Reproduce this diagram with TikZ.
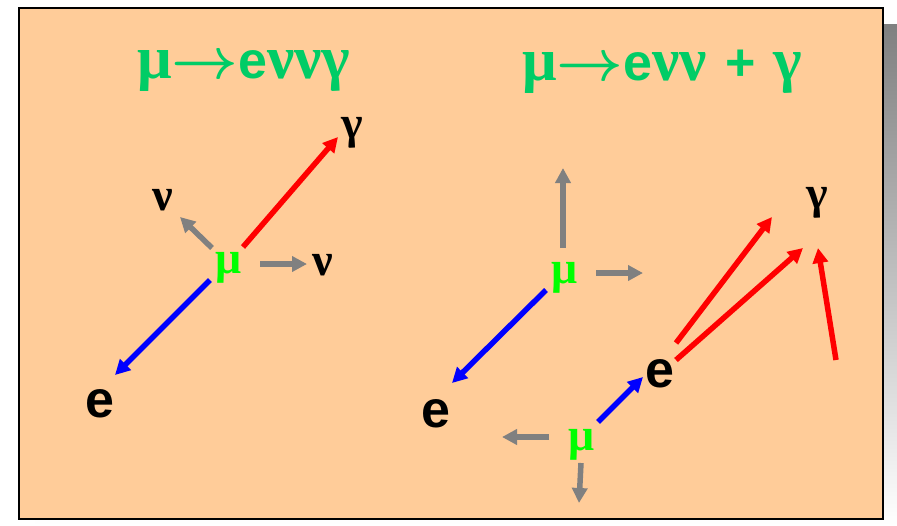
\documentclass[tikz,border=0pt]{standalone}
\usepackage{fix-cm}
\usepackage{amsmath}
\usepackage{fontspec}
\setmainfont{Liberation Sans}
\newfontfamily\greek{Liberation Serif}
\usetikzlibrary{arrows.meta}
\definecolor{paper}{HTML}{FFCC99}
\definecolor{shade}{HTML}{808080}
\definecolor{titleGreen}{HTML}{00CC66}
\definecolor{muGreen}{HTML}{00FF00}
\definecolor{phRed}{HTML}{FF0000}
\definecolor{elBlue}{HTML}{0000FF}
\definecolor{nuGray}{HTML}{808080}
\newcommand{\decarrow}{{\fontsize{58}{58}\selectfont$\boldsymbol{\rightarrow}$}}
\newcommand{\tgk}[1]{{\fontsize{61}{61}\selectfont\greek #1}}

\begin{document}
\begin{tikzpicture}[x=1pt,y=-1pt,>={Triangle[length=15pt,width=15pt]},
  trk/.style={->,line width=5.5pt},
  ttl/.style={anchor=base west,inner sep=0pt,text=titleGreen,font=\fontsize{52}{52}\selectfont\bfseries},
  gk/.style={anchor=base,inner sep=0pt,font=\fontsize{46}{46}\selectfont\greek\bfseries},
  el/.style={anchor=base,inner sep=0pt,font=\fontsize{52}{52}\selectfont\bfseries},
  mu/.style={gk,text=muGreen}]
\useasboundingbox (0,0) rectangle (897,525);
% slide with shadow
\fill[shade] (35,24) rectangle (897,525);
\draw[fill=paper,line width=2pt] (19,8) rectangle (883,519);
% titles
\node[ttl] (ttlA) at (137,78) {\tgk{μ}\decarrow e\tgk{ννγ}};
\node[ttl] (ttlB) at (522,80) {\tgk{μ}\decarrow e\tgk{νν}\hspace{0.35em}+\hspace{0.35em}\tgk{γ}};
% left: mu -> e nu nu gamma
\node[mu] (muA) at (229,273) {μ};
\node[gk] (gA) at (352,138) {γ};
\node[gk] (nA) at (163,210) {ν};
\node[gk] (nB) at (323,275) {ν};
\node[el] (eA) at (100,417) {e};
\coordinate (rA0) at (243,247); \coordinate (rA1) at (338,137);
\coordinate (vA0) at (212,248); \coordinate (vA1) at (180,217);
\coordinate (vB0) at (260,264); \coordinate (vB1) at (307,264);
\coordinate (bA0) at (210,280); \coordinate (bA1) at (115,375);
\draw[trk,phRed] (rA0) -- (rA1);
\draw[trk,nuGray] (vA0) -- (vA1);
\draw[trk,nuGray] (vB0) -- (vB1);
\draw[trk,elBlue] (bA0) -- (bA1);
% right: mu -> e nu nu + gamma
\node[mu] (muB) at (565,283) {μ};
\node[el] (eB) at (436,427) {e};
\node[mu] (muC) at (582,450) {μ};
\node[el] (eC) at (660,387) {e};
\node[gk] (gB) at (817,208) {γ};
\coordinate (vC0) at (563,248); \coordinate (vC1) at (563,168);
\coordinate (vD0) at (596,273); \coordinate (vD1) at (643,273);
\coordinate (bB0) at (546,290); \coordinate (bB1) at (452,383);
\coordinate (vE0) at (549,437); \coordinate (vE1) at (502,437);
\coordinate (vF0) at (581,463); \coordinate (vF1) at (579,503);
\coordinate (bC0) at (598,422); \coordinate (bC1) at (643,377);
\coordinate (rB0) at (676,343); \coordinate (rB1) at (772,217);
\coordinate (rC0) at (676,360); \coordinate (rC1) at (803,248);
\coordinate (rD0) at (836,360); \coordinate (rD1) at (818,248);
\draw[trk,nuGray] (vC0) -- (vC1);
\draw[trk,nuGray] (vD0) -- (vD1);
\draw[trk,elBlue] (bB0) -- (bB1);
\draw[trk,nuGray] (vE0) -- (vE1);
\draw[trk,nuGray] (vF0) -- (vF1);
\draw[trk,elBlue] (bC0) -- (bC1);
\draw[trk,phRed] (rB0) -- (rB1);
\draw[trk,phRed] (rC0) -- (rC1);
\draw[trk,phRed] (rD0) -- (rD1);
\end{tikzpicture}
\end{document}
